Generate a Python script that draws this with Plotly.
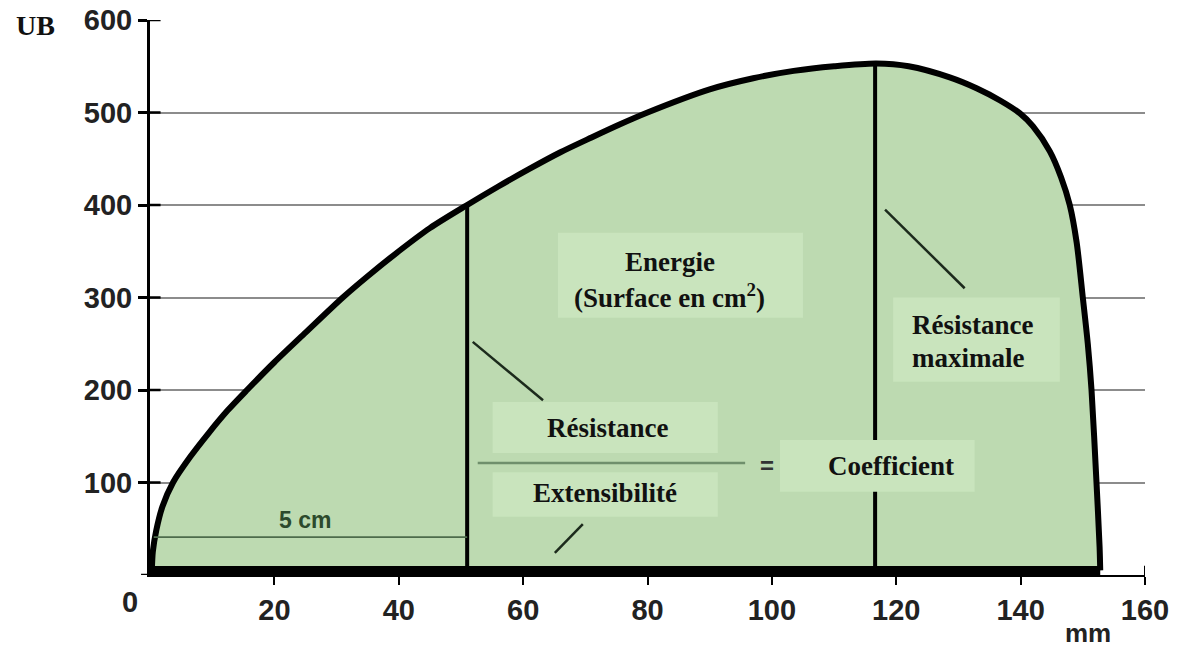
import plotly.graph_objects as go

# ---- data ----
curve_x = [0.3, 0.45, 1.0, 2.0, 3.7, 6.5, 9.5, 12.5, 15.6, 20.0, 25.0, 31.0, 35.0, 40.0, 45.0,
           51.0, 56.0, 61.0, 66.0, 71.0, 75.5, 80.0, 90.0, 97.0, 103.5, 110.0, 116.8, 122.0,
           128.6, 133.0, 136.7, 139.9, 142.0, 144.7, 146.5, 147.9, 149.0, 150.0, 150.8, 151.4,
           152.2, 152.7, 152.8]
curve_y = [5, 25, 48, 74, 100, 128, 154, 178, 200, 230, 262, 300, 323, 350, 375,
           400, 420, 439, 457, 473, 487, 500, 525, 537, 545, 550, 553, 550,
           538, 526, 513, 499, 485, 458, 430, 400, 360, 300, 250, 200,
           100, 30, 5]

baseline_x = [0.0, 152.8]
baseline_y = [5, 5]

divider_x = [51.0, 116.6]
divider_top = [400, 553]

x_tick_vals = [20, 40, 60, 80, 100, 120, 140, 160]
x_tick_text = ["20", "40", "60", "80", "100", "120", "140", "160"]
y_tick_vals = [100, 200, 300, 400, 500, 600]
y_tick_text = ["100", "200", "300", "400", "500", "600"]

# helper lines (start x, start y, end x, end y)
pointer_lines = [
    (51.9, 252, 63.2, 189),   # Résistance pointer
    (65.1, 24, 69.6, 55),     # Extensibilité pointer
    (118.2, 395, 131.0, 310), # Résistance maximale pointer
]
fraction_line = (52.7, 121, 95.7, 121)
cm_line = (0.6, 41, 51.0, 41)

# text boxes (x0, x1, y0, y1)
text_boxes = [
    (65.6, 105.0, 278, 370),
    (55.1, 91.3, 132, 187),
    (55.1, 91.3, 63, 111),
    (101.3, 132.6, 90, 146),
    (119.5, 146.3, 209, 300),
]

# labels (text, x, y, anchor)
labels = [
    ("Energie", 83.6, 338, "center"),
    ("(Surface en cm<sup>2</sup>)", 83.6, 302, "center"),
    ("Résistance", 73.5, 159, "center"),
    ("Extensibilité", 73.2, 89, "center"),
    ("Coefficient", 119.1, 118, "center"),
    ("Résistance", 122.2, 270, "left"),
    ("maximale", 122.2, 235, "left"),
]

FILL = "#bddab1"
BOX = "#c9e4bd"

fig = go.Figure()

fig.add_trace(go.Scatter(
    x=curve_x, y=curve_y, mode="lines", fill="toself", fillcolor=FILL,
    line=dict(color="black", width=6, shape="spline", smoothing=0.8),
    hoverinfo="skip", showlegend=False))

fig.add_trace(go.Scatter(
    x=baseline_x, y=baseline_y, mode="lines",
    line=dict(color="black", width=9), hoverinfo="skip", showlegend=False))

for dx, top in zip(divider_x, divider_top):
    fig.add_trace(go.Scatter(
        x=[dx, dx], y=[5, top], mode="lines",
        line=dict(color="black", width=4), hoverinfo="skip", showlegend=False))

for (x0, y0, x1, y1) in pointer_lines:
    fig.add_trace(go.Scatter(
        x=[x0, x1], y=[y0, y1], mode="lines",
        line=dict(color="#1c2a1c", width=2.5), hoverinfo="skip", showlegend=False))

fx0, fy0, fx1, fy1 = fraction_line
fig.add_trace(go.Scatter(
    x=[fx0, fx1], y=[fy0, fy1], mode="lines",
    line=dict(color="#6f8f6c", width=2.5), hoverinfo="skip", showlegend=False))

cx0, cy0, cx1, cy1 = cm_line
fig.add_trace(go.Scatter(
    x=[cx0, cx1], y=[cy0, cy1], mode="lines",
    line=dict(color="#4d6b4b", width=1.8), hoverinfo="skip", showlegend=False))

for (x0, x1, y0, y1) in text_boxes:
    fig.add_shape(type="rect", x0=x0, x1=x1, y0=y0, y1=y1, xref="x", yref="y",
                  fillcolor=BOX, line=dict(width=0), layer="above")

# inner half of the crossing y ticks
for v in y_tick_vals:
    fig.add_shape(type="line", x0=0, x1=1.7, y0=v, y1=v, xref="x", yref="y",
                  line=dict(color="black", width=2.5), layer="above")
# tick at y = 0 (outside, left)
fig.add_shape(type="line", x0=-0.009, x1=0, y0=0, y1=0, xref="paper", yref="y",
              line=dict(color="black", width=2.5), layer="above")
# upper half of end tick at 160
fig.add_shape(type="line", x0=160, x1=160, y0=0, y1=10, xref="x", yref="y",
              line=dict(color="black", width=2), layer="above")

for text, x, y, anchor in labels:
    fig.add_annotation(x=x, y=y, text="<b>" + text + "</b>", showarrow=False,
                       xanchor=anchor, yanchor="middle",
                       font=dict(family="Liberation Serif", size=27, color="#111111"))

fig.add_annotation(x=99.2, y=118, text="<b>=</b>", showarrow=False,
                   font=dict(family="Liberation Sans", size=24, color="#333333"))
fig.add_annotation(x=25.0, y=60, text="<b>5 cm</b>", showarrow=False,
                   font=dict(family="Liberation Sans", size=23, color="#2c4a2c"))

# axis-related texts
fig.add_annotation(x=0, y=0, xref="x", yref="y", text="<b>0</b>", showarrow=False,
                   xanchor="center", yanchor="middle", xshift=-20, yshift=-27,
                   font=dict(family="Liberation Sans", size=29, color="#222222"))
fig.add_annotation(xref="x", yref="paper", x=150.8, y=0, xanchor="center", yanchor="middle",
                   yshift=-58, text="<b>mm</b>", showarrow=False,
                   font=dict(family="Liberation Sans", size=26, color="#222222"))
fig.add_annotation(xref="paper", yref="y", x=0, y=600, xanchor="center", yanchor="middle",
                   xshift=-115, yshift=-5, text="<b>UB</b>", showarrow=False,
                   font=dict(family="Liberation Serif", size=28, color="#111111"))

fig.update_layout(
    width=1183, height=650,
    margin=dict(l=150, r=38, t=20, b=75, autoexpand=False),
    paper_bgcolor="white", plot_bgcolor="white",
    showlegend=False,
    xaxis=dict(range=[0, 160], tickvals=x_tick_vals, ticktext=x_tick_text,
               showgrid=False, zeroline=False, showline=True, linecolor="black",
               linewidth=2, ticks="outside", ticklen=8, tickwidth=2, tickcolor="black",
               tickfont=dict(family="Liberation Sans", size=29, color="#222222", weight="bold"),
               automargin=False, fixedrange=True),
    yaxis=dict(range=[0, 600], tickvals=y_tick_vals, ticktext=y_tick_text,
               showgrid=True, gridcolor="#8c8c8c", gridwidth=2, zeroline=False,
               showline=True, linecolor="black", linewidth=3,
               ticks="outside", ticklen=9, tickwidth=2.5, tickcolor="black",
               tickfont=dict(family="Liberation Sans", size=29, color="#222222", weight="bold"),
               automargin=False, fixedrange=True),
)

fig.write_html("out.html", config={"displayModeBar": False},
               post_script="document.body.style.margin='0';")
